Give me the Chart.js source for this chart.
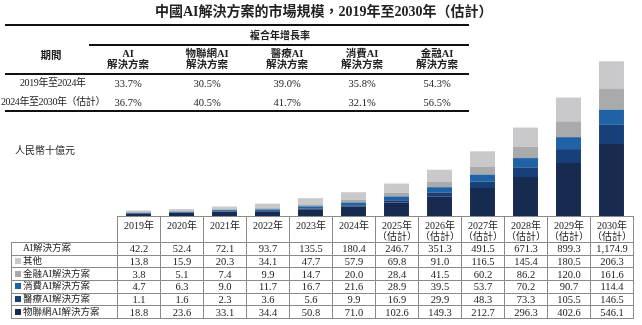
<!DOCTYPE html>
<html>
<head>
<meta charset="utf-8">
<script src="https://cdn.jsdelivr.net/npm/chart.js@4"></script>
<style>
  body { margin: 0; background: #fff; }
  #wrap { position: relative; width: 642px; height: 325px; overflow: hidden;
          font-family: "Liberation Serif", "Noto Sans CJK TC", serif; color: #222; }
  #marketChart { position: absolute; left: 0; top: 0; }
  .txt { position: absolute; white-space: nowrap; text-align: center; line-height: 1.05; }
  .rule { position: absolute; background: #111; }
  #dataTable { position: absolute; left: 11px; top: 216px; border-collapse: collapse;
               table-layout: fixed; font-size: 10.5px; }
  #dataTable td { border: 1px solid #8a8a8a; padding: 0; text-align: center; height: 11.7px; line-height: 11px; }
  #dataTable td.lbl { text-align: left; padding-left: 3px; font-size: 9.5px; }
  #dataTable tr.head td { height: 21px; line-height: 11px; font-size: 10px;
                          vertical-align: top; padding-top: 3px; }
  #dataTable tr.head td.blank { border: none; }
  .sq { display: inline-block; width: 6px; height: 6px; margin-right: 2px; vertical-align: 0px; }
</style>
</head>
<body>
<div id="wrap">
  <canvas id="marketChart" width="642" height="325"></canvas>
</div>
<script>
// categories
const yearLabels = ["2019年", "2020年", "2021年", "2022年", "2023年", "2024年",
                    "2025年", "2026年", "2027年", "2028年", "2029年", "2030年"];
const estimated = [false, false, false, false, false, false, true, true, true, true, true, true];

// market size, RMB billion
const totalAI  = [42.2, 52.4, 72.1, 93.7, 135.5, 180.4, 246.7, 351.3, 491.5, 671.3, 899.3, 1174.9];
const other    = [13.8, 15.9, 20.3, 34.1, 47.7, 57.9, 69.8, 91.0, 116.5, 145.4, 180.5, 206.3];
const finance  = [3.8, 5.1, 7.4, 9.9, 14.7, 20.0, 28.4, 41.5, 60.2, 86.2, 120.0, 161.6];
const consumer = [4.7, 6.3, 9.0, 11.7, 16.7, 21.6, 28.9, 39.5, 53.7, 70.2, 90.7, 114.4];
const medical  = [1.1, 1.6, 2.3, 3.6, 5.6, 9.9, 16.9, 29.9, 48.3, 73.3, 105.5, 146.5];
const iot      = [18.8, 23.6, 33.1, 34.4, 50.8, 71.0, 102.6, 149.3, 212.7, 296.3, 402.6, 546.1];

// CAGR table
const cagrPeriods = ["2019年至2024年", "2024年至2030年（估計）"];
const cagrHeaders = [["AI", "解決方案"], ["物聯網AI", "解決方案"], ["醫療AI", "解決方案"],
                     ["消費AI", "解決方案"], ["金融AI", "解決方案"]];
const cagrRows = [[33.7, 30.5, 39.0, 35.8, 54.3],
                  [36.7, 40.5, 41.7, 32.1, 56.5]];

const colors = {
    iot: "#172b50",
    medical: "#173f79",
    consumer: "#1f62a6",
    finance: "#a9aaac",
    other: "#c9c9cb"
};

const wrap = document.getElementById("wrap");

function addText(html, cx, cy, style) {
    const d = document.createElement("div");
    d.className = "txt";
    d.innerHTML = html;
    Object.assign(d.style, style || {});
    wrap.appendChild(d);
    // centre the box on (cx, cy)
    d.style.left = (cx - d.offsetWidth / 2) + "px";
    d.style.top = (cy - d.offsetHeight / 2) + "px";
    return d;
}

function addRule(x, y, w, h) {
    const r = document.createElement("div");
    r.className = "rule";
    Object.assign(r.style, { left: x + "px", top: y + "px", width: w + "px", height: h + "px" });
    wrap.appendChild(r);
}

// title and CAGR block
addText("中國AI解決方案的市場規模，2019年至2030年（估計）", 324, 12,
        { fontSize: "14px", fontWeight: "bold" });
addRule(5, 24, 464, 2);
addText("複合年增長率", 280, 36, { fontSize: "10px", fontWeight: "bold" });
addRule(89, 44, 380, 2);
addText("期間", 51, 55, { fontSize: "10.5px", fontWeight: "bold" });
const cagrX = [128, 207, 287, 362, 437];
cagrHeaders.forEach((h, i) => {
    addText(h.join("<br>"), cagrX[i], 59, { fontSize: "10.5px", fontWeight: "bold" });
});
addRule(5, 73, 464, 2);
cagrPeriods.forEach((p, r) => {
    const y = r === 0 ? 83 : 102;
    addText(p, 53, y, { fontSize: "10px", letterSpacing: "-0.4px" });
    cagrRows[r].forEach((v, i) => addText(v.toFixed(1) + "%", cagrX[i], y, { fontSize: "10.5px" }));
});
addRule(5, 110, 464, 2);

addText("人民幣十億元", 45, 151, { fontSize: "10px" });

// data table under the bars
function fmt(v) {
    return v.toLocaleString("en-US", { minimumFractionDigits: 1, maximumFractionDigits: 1 });
}
const table = document.createElement("table");
table.id = "dataTable";
const colgroup = document.createElement("colgroup");
colgroup.innerHTML = '<col style="width:106px">' + yearLabels.map(() => '<col style="width:43px">').join("");
table.appendChild(colgroup);

const head = document.createElement("tr");
head.className = "head";
head.innerHTML = '<td class="blank"></td>' + yearLabels.map((y, i) =>
    "<td>" + y + (estimated[i] ? "<br>（估計）" : "") + "</td>").join("");
table.appendChild(head);

const rows = [
    { label: "AI解決方案", color: null, data: totalAI },
    { label: "其他", color: colors.other, data: other },
    { label: "金融AI解決方案", color: colors.finance, data: finance },
    { label: "消費AI解決方案", color: colors.consumer, data: consumer },
    { label: "醫療AI解決方案", color: colors.medical, data: medical },
    { label: "物聯網AI解決方案", color: colors.iot, data: iot }
];
rows.forEach(r => {
    const tr = document.createElement("tr");
    const sq = r.color ? '<span class="sq" style="background:' + r.color + '"></span>'
                       : '<span class="sq"></span>';
    tr.innerHTML = '<td class="lbl">' + sq + r.label + "</td>" +
        r.data.map(v => "<td>" + fmt(v) + "</td>").join("");
    table.appendChild(tr);
});
wrap.appendChild(table);

// stacked bars
const ctx = document.getElementById("marketChart").getContext("2d");
new Chart(ctx, {
    type: "bar",
    data: {
        labels: yearLabels,
        datasets: [
            { label: "物聯網AI解決方案", data: iot, backgroundColor: colors.iot },
            { label: "醫療AI解決方案", data: medical, backgroundColor: colors.medical },
            { label: "消費AI解決方案", data: consumer, backgroundColor: colors.consumer },
            { label: "金融AI解決方案", data: finance, backgroundColor: colors.finance },
            { label: "其他", data: other, backgroundColor: colors.other }
        ]
    },
    options: {
        responsive: false,
        animation: false,
        devicePixelRatio: 1,
        layout: { padding: { left: 117, right: 9, top: 58, bottom: 109 } },
        datasets: { bar: { categoryPercentage: 1, barPercentage: 0.58, borderWidth: 0 } },
        plugins: { legend: { display: false }, tooltip: { enabled: false } },
        scales: {
            x: { stacked: true, display: false },
            y: { stacked: true, display: false, min: 0, max: 1200 }
        }
    }
});
</script>
</body>
</html>
